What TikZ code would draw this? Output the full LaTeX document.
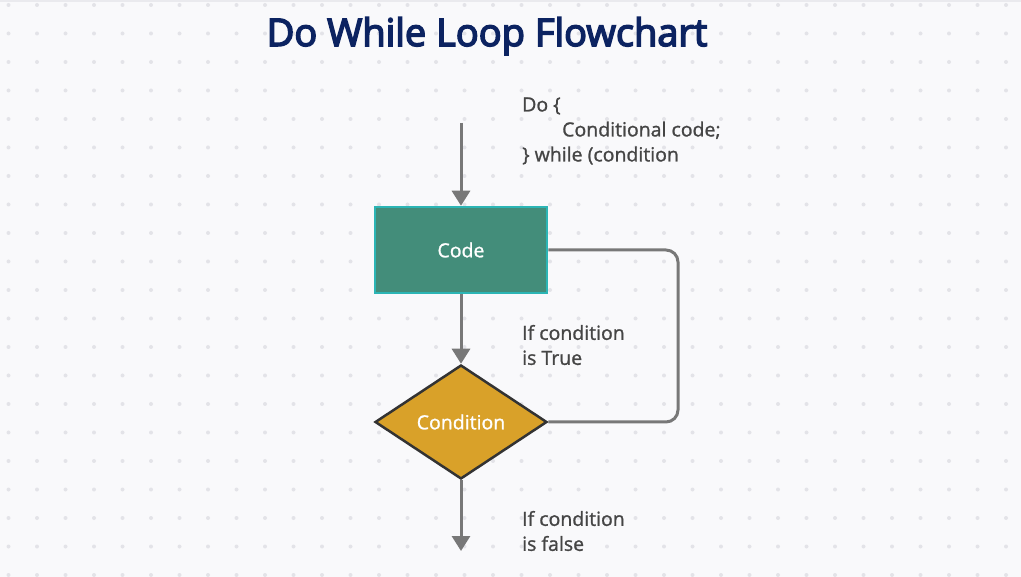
\documentclass[tikz,border=0pt]{standalone}
\usepackage{fontspec}
\setmainfont[FakeBold=1.2]{Open Sans}
\newfontfamily\titlefont[FakeBold=4]{Open Sans}
\usetikzlibrary{shapes.geometric,positioning,arrows.meta}

\definecolor{bgcol}{HTML}{F9F9FB}
\definecolor{dotcol}{HTML}{E3E3E8}
\definecolor{titlecol}{HTML}{0C2361}
\definecolor{codefill}{HTML}{438D7A}
\definecolor{codeline}{HTML}{2CB5B5}
\definecolor{condfill}{HTML}{D9A129}
\definecolor{condline}{HTML}{333333}
\definecolor{flowcol}{HTML}{787878}
\definecolor{textcol}{HTML}{454545}

\tikzset{
  flow/.style={draw=flowcol,line width=3pt,-{Triangle[length=15pt,width=18pt]}},
  loopline/.style={draw=flowcol,line width=3pt,rounded corners=12pt},
  note/.style={text=textcol,font=\fontsize{19.5}{25}\selectfont,align=left,anchor=west,inner sep=0pt},
}

\begin{document}
\begin{tikzpicture}[x=1pt,y=-1pt]
% background with dot grid
\fill[bgcol] (0,0) rectangle (1021,577);
\useasboundingbox (0,0) rectangle (1021,577);
\fill[dotcol!70!bgcol] (0,0) rectangle (1021,2);
\foreach \i in {0,...,35}
  \foreach \j in {0,...,20}
    \fill[dotcol] (8.5+28.5*\i,5+28.5*\j) circle (2);

\node[text=titlecol,font=\fontsize{38}{44}\selectfont\titlefont,anchor=base,inner sep=0pt] (title) at (487,46) {Do While Loop Flowchart};

\node[draw=codeline,fill=codefill,line width=2.5pt,minimum width=172pt,minimum height=86pt,text=white,font=\fontsize{19.5}{22}\selectfont] (code) at (461,250) {Code};
\node[diamond,draw=condline,fill=condfill,line width=2.5pt,minimum width=172pt,minimum height=114pt,inner sep=0pt,text=white,font=\fontsize{19.5}{22}\selectfont] (cond) at (461,422) {Condition};

\coordinate (start) at (461,123);
\coordinate (stop) at (461,551);
\coordinate (turn) at (678,0);

\draw[flow] (start) -- (code);
\draw[flow] (code) -- (cond);
\draw[flow] (cond) -- (stop);
\draw[loopline] (cond.east) -- (cond.east -| turn) -- (code.east -| turn) -- (code.east);

\node[note] (dotxt) at (522,131) {Do \{\\\hspace{40pt}Conditional code;\\\} while (condition};
\node[note] (truetxt) at (522,345) {If condition\\is True};
\node[note] (falsetxt) at (522,531) {If condition\\is false};
\end{tikzpicture}
\end{document}
